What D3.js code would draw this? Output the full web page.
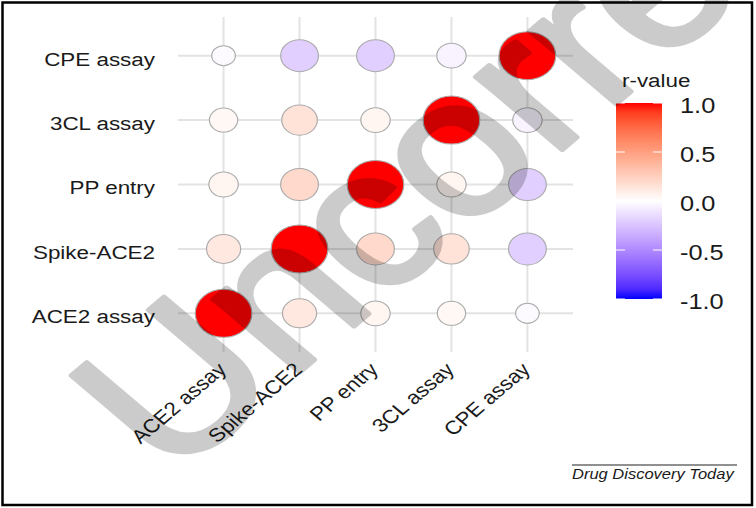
<!DOCTYPE html>
<html>
<head>
<meta charset="utf-8">
<script src="https://cdn.jsdelivr.net/npm/d3@7"></script>
<style>
  html, body { margin: 0; padding: 0; background: #ffffff; }
  svg { display: block; }
  text { font-family: "Liberation Sans", Arial, Helvetica, sans-serif; }
</style>
</head>
<body>
<svg id="chart" width="756" height="508"></svg>
<script>
// ---------------- data ----------------
const assays = ["ACE2 assay", "Spike-ACE2", "PP entry", "3CL assay", "CPE assay"];
// symmetric correlation matrix, rows/cols in the order of `assays`
const rAce2  = [ 1.00,  0.12,  0.05,  0.04, -0.02];
const rSpike = [ 0.12,  1.00,  0.20,  0.15, -0.20];
const rPP    = [ 0.05,  0.20,  1.00,  0.05, -0.20];
const r3CL   = [ 0.04,  0.15,  0.05,  1.00, -0.05];
const rCPE   = [-0.02, -0.20, -0.20, -0.05,  1.00];
const rMatrix = [rAce2, rSpike, rPP, r3CL, rCPE];
const legendTicks = [1.0, 0.5, 0.0, -0.5, -1.0];
const legendTickLabels = ["1.0", "0.5", "0.0", "-0.5", "-1.0"];
const legendTitle = "r-value";
const watermarkText = "Uncorrected proof";
const journalText = "Drug Discovery Today";

// ---------------- layout ----------------
const W = 756, H = 508;
const sx = 1.18;               // the figure is stretched horizontally
const svg = d3.select("#chart");
svg.append("rect").attr("width", W).attr("height", H).attr("fill", "#ffffff");

const g = svg.append("g").attr("transform", `scale(${sx},1)`);

const cells = [];
rMatrix.forEach((row, i) => row.forEach((v, j) => cells.push({ y: assays[i], x: assays[j], r: v })));

const x = d3.scalePoint().domain(assays).range([178 / sx, 573 / sx]).padding(0.6);
const y = d3.scalePoint().domain(assays.slice().reverse()).range([17, 352]).padding(0.6);

const absExtent = d3.extent(cells, d => Math.abs(d.r));
const rescale = d3.scaleLinear().domain(absExtent).range([0, 1]);
const radius = d3.scaleSqrt().domain([0, 1]).range([10, 24]);

const colorPos = d3.interpolateLab("#ffffff", "#ff0000");
const colorNeg = d3.interpolateLab("#ffffff", "#0000ff");
const color = v => v >= 0 ? colorPos(v) : colorNeg(-v);

// grid
const grid = g.append("g");
grid.selectAll("line.h").data(assays).join("line")
  .attr("x1", 178 / sx).attr("x2", 573 / sx)
  .attr("y1", d => y(d)).attr("y2", d => y(d))
  .attr("stroke", "#e3e3e3").attr("stroke-width", 2);
grid.selectAll("line.v").data(assays).join("line")
  .attr("x1", d => x(d)).attr("x2", d => x(d))
  .attr("y1", 17).attr("y2", 352)
  .attr("stroke", "#e3e3e3").attr("stroke-width", 2 / sx);

// points
g.append("g").selectAll("circle").data(cells).join("circle")
  .attr("cx", d => x(d.x)).attr("cy", d => y(d.y))
  .attr("r", d => radius(rescale(Math.abs(d.r))))
  .attr("fill", d => color(d.r))
  .attr("stroke", "#ababab").attr("stroke-width", 1);

// y-axis labels
g.append("g").selectAll("text").data(assays).join("text")
  .attr("x", 155 / sx).attr("y", d => y(d) + 10)
  .attr("text-anchor", "end")
  .attr("font-size", 19).attr("fill", "#1a1a1a")
  .text(d => d);

// x-axis labels
g.append("g").selectAll("text").data(assays).join("text")
  .attr("transform", d => `translate(${x(d) - 6.3},${361}) rotate(-45)`)
  .attr("text-anchor", "end").attr("dy", "0.72em")
  .attr("font-size", 19).attr("fill", "#1a1a1a")
  .text(d => d);

// legend
const lx0 = 616 / sx, lw = 46 / sx;
const ly = d3.scaleLinear().domain([-1, 1]).range([299, 103]);
const defs = svg.append("defs");
const grad = defs.append("linearGradient").attr("id", "cbar")
  .attr("x1", 0).attr("y1", 0).attr("x2", 0).attr("y2", 1);
d3.range(0, 21).forEach(k => {
  const v = 1 - k / 10;
  grad.append("stop").attr("offset", (k / 20)).attr("stop-color", color(v));
});
const leg = g.append("g");
leg.append("text").attr("x", 622 / sx).attr("y", 87)
  .attr("font-size", 19).attr("fill", "#1a1a1a").text(legendTitle);
leg.append("rect").attr("x", lx0).attr("y", ly(1)).attr("width", lw)
  .attr("height", ly(-1) - ly(1)).attr("fill", "url(#cbar)");
leg.selectAll("line.tl").data(legendTicks).join("line")
  .attr("x1", lx0).attr("x2", lx0 + 9 / sx)
  .attr("y1", d => ly(d)).attr("y2", d => ly(d))
  .attr("stroke", "#ffffff").attr("stroke-width", 1);
leg.selectAll("line.tr").data(legendTicks).join("line")
  .attr("x1", lx0 + lw - 9 / sx).attr("x2", lx0 + lw)
  .attr("y1", d => ly(d)).attr("y2", d => ly(d))
  .attr("stroke", "#ffffff").attr("stroke-width", 1);
leg.selectAll("text.lab").data(legendTicks).join("text")
  .attr("x", 680 / sx).attr("y", d => ly(d) + 10)
  .attr("font-size", 21.5).attr("fill", "#1a1a1a")
  .text((d, i) => legendTickLabels[i]);

// journal credit
g.append("line").attr("x1", 572 / sx).attr("x2", 737 / sx)
  .attr("y1", 465).attr("y2", 465).attr("stroke", "#222").attr("stroke-width", 1);
g.append("text").attr("x", 572 / sx).attr("y", 479)
  .attr("font-size", 14).attr("font-style", "italic").attr("fill", "#1a1a1a")
  .text(journalText);

// watermark
g.append("g").attr("opacity", 0.2)
  .append("text")
  .attr("transform", `translate(${145},${481}) rotate(-45)`)
  .attr("font-size", 195).attr("fill", "#000")
  .attr("stroke", "#000").attr("stroke-width", 5).attr("stroke-linejoin", "round")
  .text(watermarkText);

// frame
svg.append("rect").attr("x", 2.5).attr("y", 2.5).attr("width", 749.5).attr("height", 502.5)
  .attr("fill", "none").attr("stroke", "#000").attr("stroke-width", 2.5);
</script>
</body>
</html>
